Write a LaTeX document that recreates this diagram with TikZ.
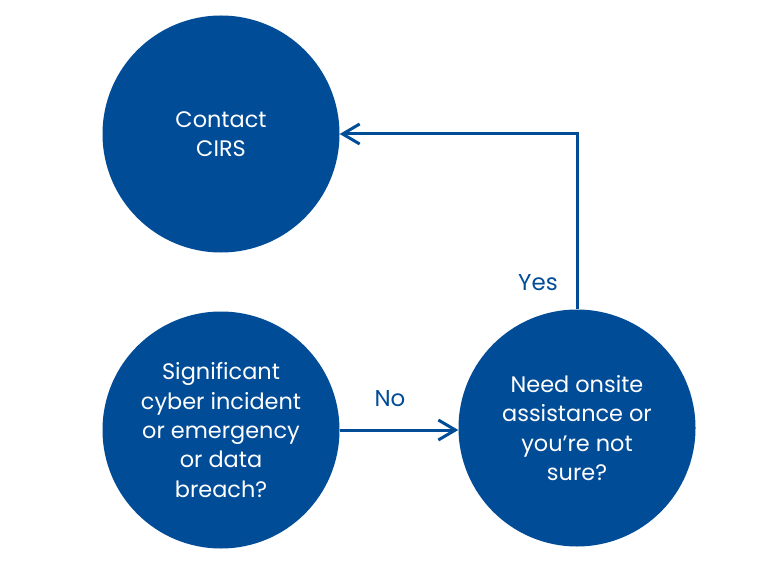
\documentclass[tikz,border=0pt]{standalone}
\usepackage{fontspec}
\setmainfont{Poppins}
\usetikzlibrary{arrows.meta}
\definecolor{navy}{RGB}{0,76,151}
\begin{document}
\begin{tikzpicture}[x=1bp,y=-1bp,
  bubble/.style={circle,fill=navy,text=white,minimum size=237bp,inner sep=0pt,
    align=center,font=\fontsize{22.5}{29.5}\selectfont},
  arr/.style={draw=navy,line width=3bp,-{Straight Barb[length=17bp,width=20bp,line width=3bp]}},
  lbl/.style={text=navy,font=\fontsize{23}{28}\selectfont}]
\useasboundingbox (0,0) rectangle (781,570);
\node[bubble] (contact) at (221,134) {Contact\\CIRS};
\node[bubble] (q1) at (221,430) {Significant\\cyber incident\\or emergency\\or data\\breach?};
\node[bubble] (q2) at (577,428) {Need onsite\\assistance or\\you’re not\\sure?};
\draw[arr] (q1.east |- 0,430) -- (q2.west |- 0,430);
\draw[arr] (q2.north) |- (contact.east);
\node[lbl] (no) at (390,399) {No};
\node[lbl] (yes) at (538,283) {Yes};
\end{tikzpicture}
\end{document}
